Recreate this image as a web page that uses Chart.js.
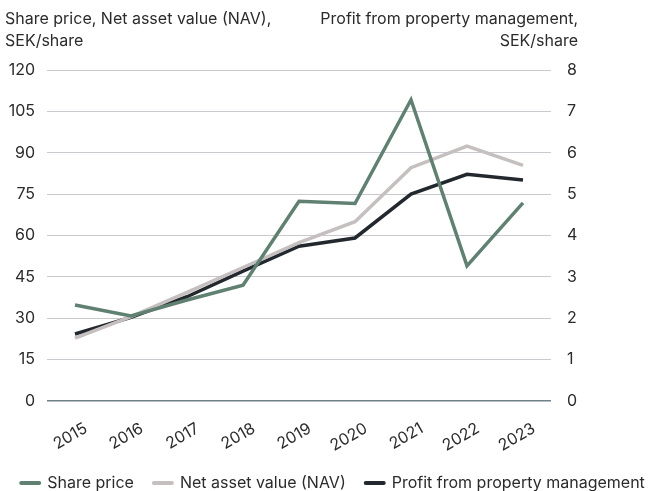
<!DOCTYPE html>
<html>
<head>
<meta charset="utf-8">
<script src="https://cdn.jsdelivr.net/npm/chart.js@4.4.1/dist/chart.umd.min.js"></script>
<style>
  html, body { margin: 0; padding: 0; background: #fff; }
  #wrap { width: 666px; height: 491px; position: relative; }
</style>
</head>
<body>
<div id="wrap"><canvas id="chart" width="666" height="491"></canvas></div>
<script>
'use strict';

// Data
var years = ['2015', '2016', '2017', '2018', '2019', '2020', '2021', '2022', '2023'];
var sharePrice = [34.8, 30.8, 36.6, 42.0, 72.4, 71.6, 109.2, 49.0, 71.8];
var navValues = [22.8, 30.6, 39.4, 48.4, 57.4, 65.0, 84.6, 92.4, 85.4];
var profitValues = [1.62, 2.02, 2.52, 3.14, 3.74, 3.94, 5.0, 5.48, 5.34];
var leftTicks = [0, 15, 30, 45, 60, 75, 90, 105, 120];
var rightTicks = [0, 1, 2, 3, 4, 5, 6, 7, 8];

var green = 'rgb(96,128,113)';
var grey = 'rgb(197,191,191)';
var dark = 'rgb(34,40,45)';
var textColor = '#2b2b2b';
var fontFamily = 'Inter, "Noto Sans", sans-serif';

Chart.defaults.font.family = fontFamily;
Chart.defaults.font.size = 16;
Chart.defaults.color = textColor;

// Axis titles at top corners
var axisTitles = {
  id: 'axisTitles',
  afterDraw: function (chart) {
    var ctx = chart.ctx;
    ctx.save();
    ctx.font = '16px ' + fontFamily;
    ctx.fillStyle = textColor;
    ctx.textBaseline = 'alphabetic';
    ctx.textAlign = 'left';
    ctx.fillText('Share price, Net asset value (NAV),', 5, 24);
    ctx.fillText('SEK/share', 5, 46);
    ctx.textAlign = 'right';
    ctx.fillText('Profit from property management,', 578, 24);
    ctx.fillText('SEK/share', 578, 46);
    ctx.restore();
  }
};

var ctx = document.getElementById('chart').getContext('2d');
var chart = new Chart(ctx, {
  type: 'line',
  data: {
    labels: years,
    datasets: [{
      label: 'Share price',
      data: sharePrice,
      borderColor: green,
      backgroundColor: green,
      borderWidth: 3.5,
      yAxisID: 'y'
    }, {
      label: 'Net asset value (NAV)',
      data: navValues,
      borderColor: grey,
      backgroundColor: grey,
      borderWidth: 3.5,
      yAxisID: 'y'
    }, {
      label: 'Profit from property management',
      data: profitValues,
      borderColor: dark,
      backgroundColor: dark,
      borderWidth: 3.5,
      yAxisID: 'y1'
    }]
  },
  options: {
    responsive: false,
    animation: false,
    devicePixelRatio: 1,
    layout: { padding: { top: 70, left: 0, right: 0, bottom: -10 } },
    elements: {
      point: { radius: 0 },
      line: { tension: 0, borderJoinStyle: 'miter' }
    },
    plugins: {
      tooltip: { enabled: false },
      legend: {
        position: 'bottom',
        labels: {
          usePointStyle: true,
          pointStyle: 'line',
          pointStyleWidth: 18,
          padding: 20,
          font: { size: 16 },
          color: textColor,
          generateLabels: function (chart) {
            var items = Chart.defaults.plugins.legend.labels.generateLabels(chart);
            items.forEach(function (it) { it.lineCap = 'round'; it.lineWidth = 4; });
            return items;
          }
        }
      }
    },
    scales: {
      x: {
        offset: true,
        grid: { display: false, drawTicks: false },
        border: { display: false },
        afterFit: function (axis) { axis.height = 54; },
        ticks: { minRotation: 30, maxRotation: 30, padding: 18, labelOffset: 11, font: { size: 16 } }
      },
      y: {
        position: 'left',
        min: 0,
        max: 120,
        afterBuildTicks: function (axis) {
          axis.ticks = leftTicks.map(function (v) { return { value: v }; });
        },
        afterFit: function (axis) { axis.width = 47; },
        grid: {
          drawTicks: false,
          color: function (c) { return c.tick.value === 0 ? '#6f8088' : '#c9c9cf'; },
          lineWidth: function (c) { return c.tick.value === 0 ? 1.5 : 1; }
        },
        border: { display: false },
        ticks: { padding: 12, font: { size: 16 } }
      },
      y1: {
        position: 'right',
        min: 0,
        max: 8,
        afterBuildTicks: function (axis) {
          axis.ticks = rightTicks.map(function (v) { return { value: v }; });
        },
        afterFit: function (axis) { axis.width = 115; },
        grid: { display: false, drawTicks: false },
        border: { display: false },
        ticks: { padding: 16, font: { size: 16 } }
      }
    }
  },
  plugins: [axisTitles]
});
</script>
</body>
</html>
